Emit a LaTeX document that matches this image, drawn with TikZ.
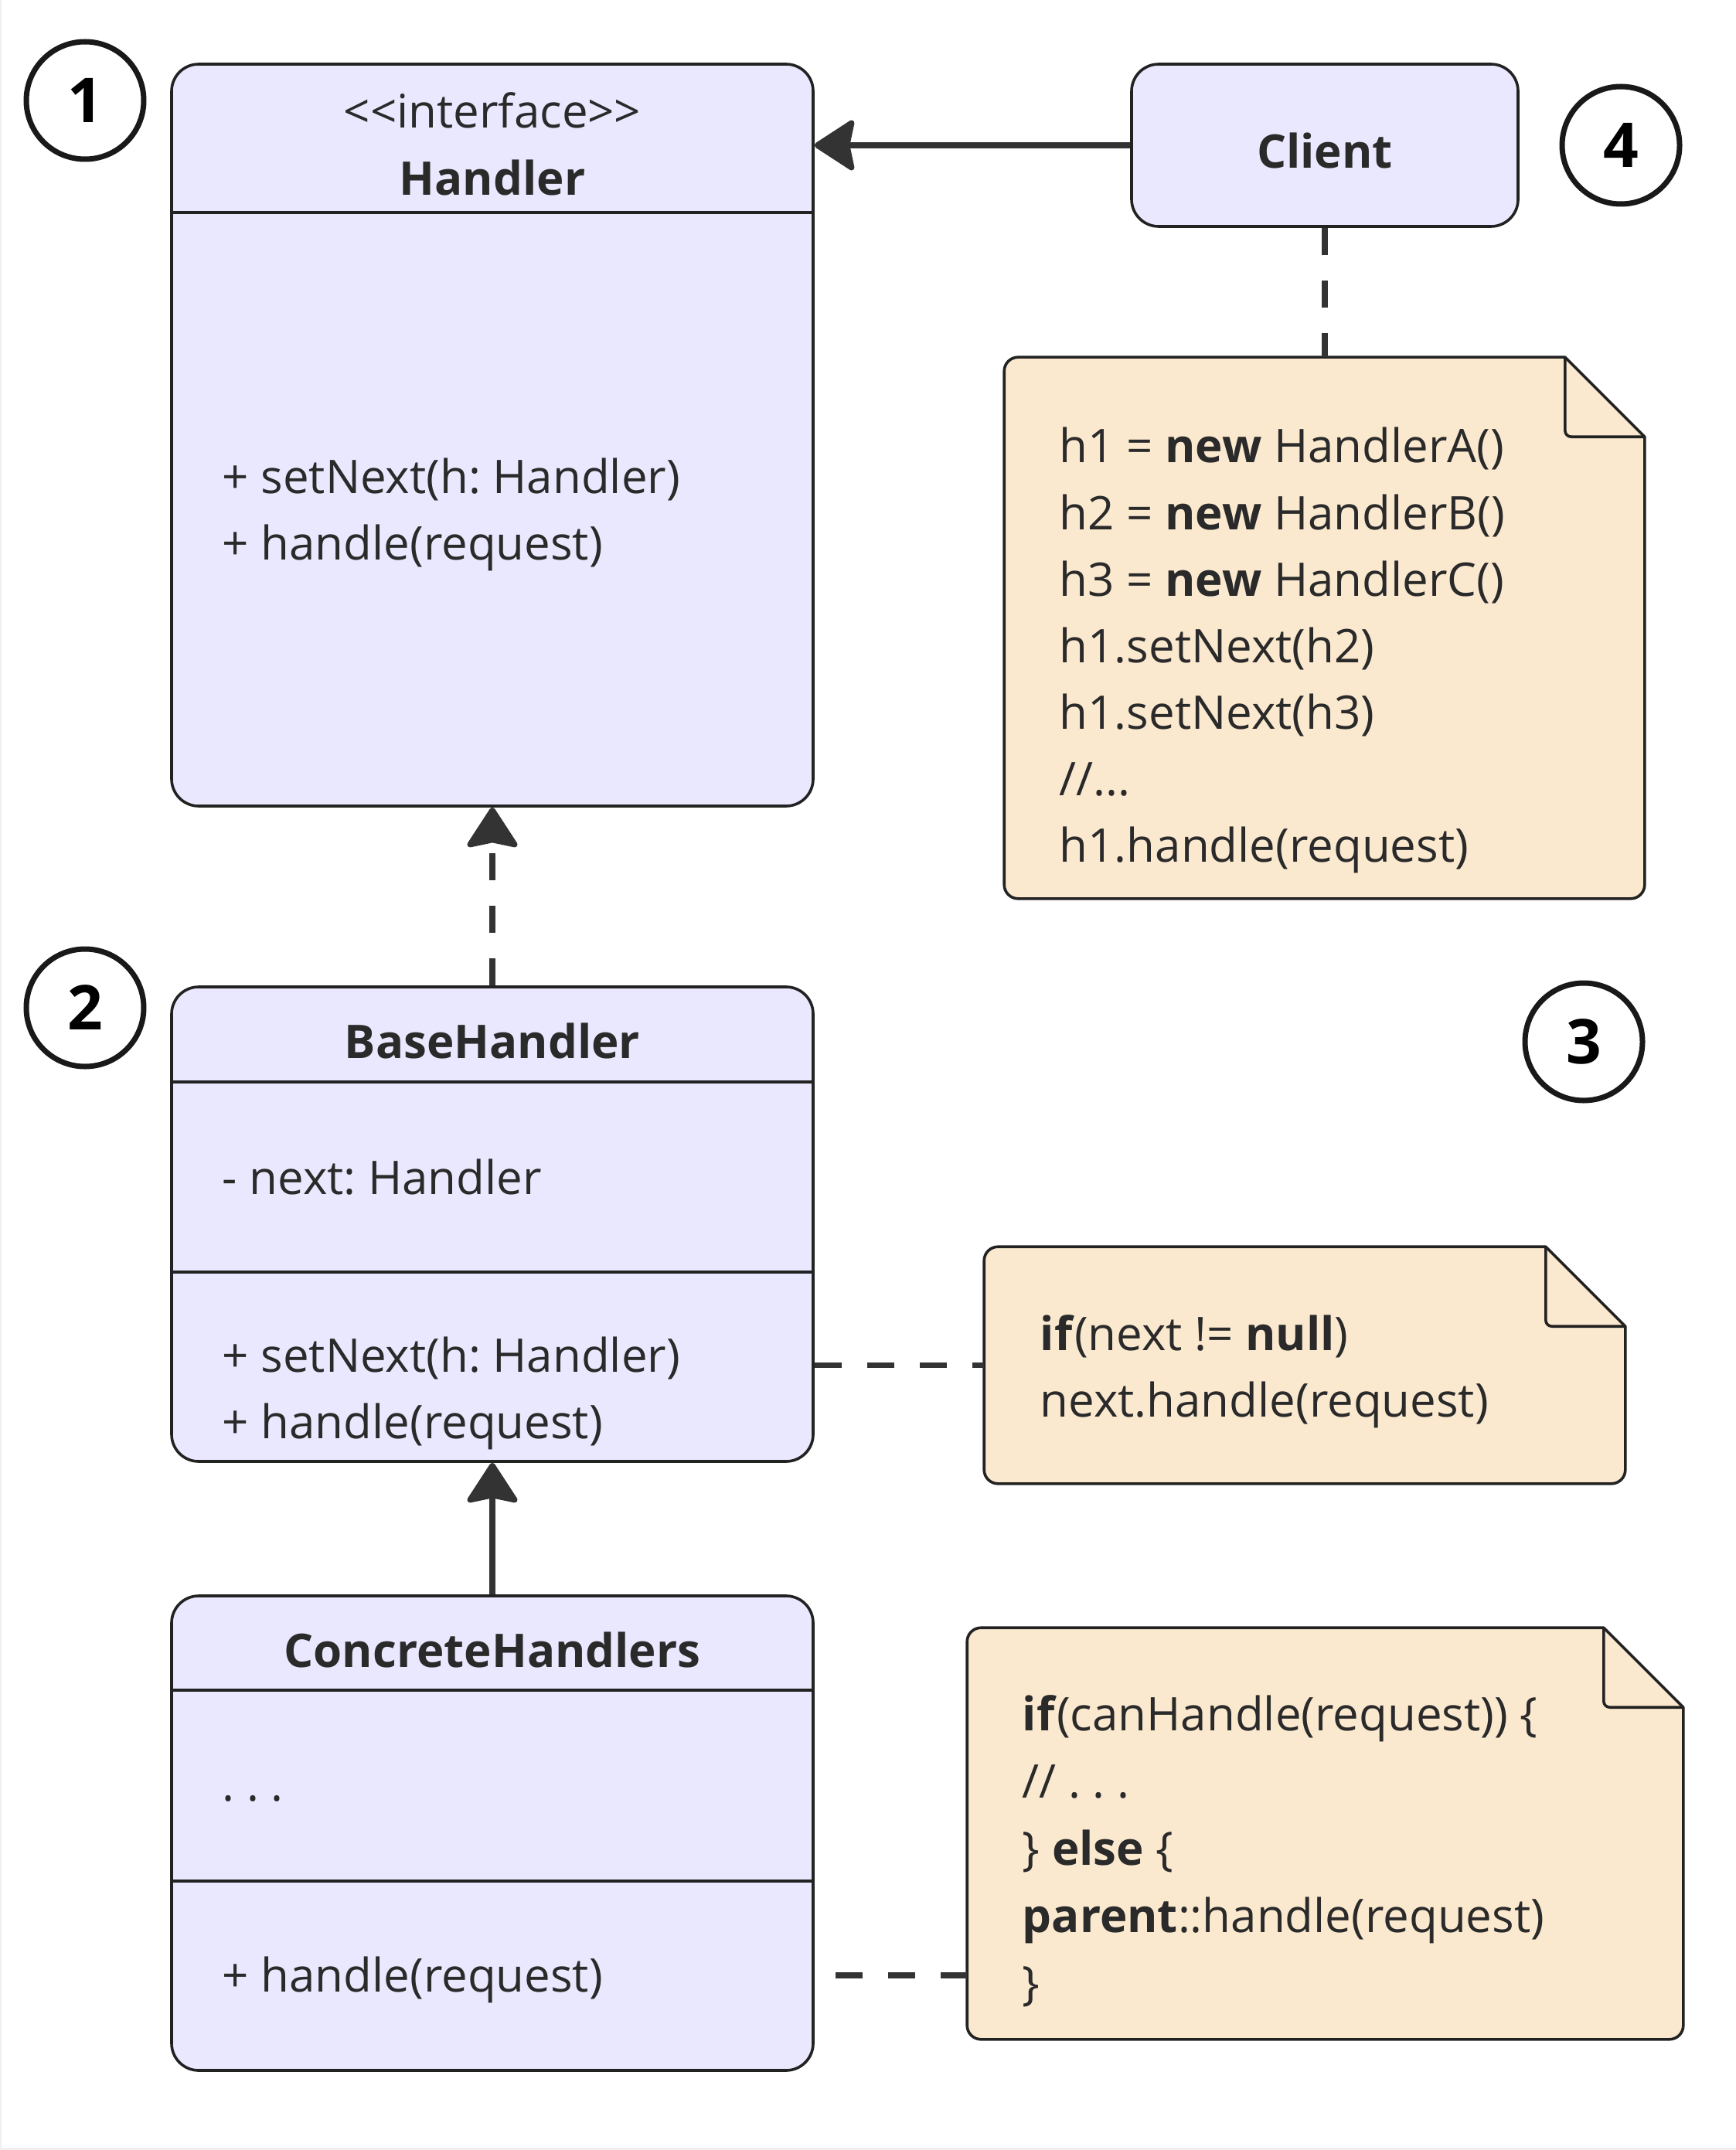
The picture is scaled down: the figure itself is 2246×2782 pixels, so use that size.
\documentclass[tikz,border=0pt]{standalone}
\usepackage{fontspec}
\setmainfont{Open Sans}
\usetikzlibrary{arrows.meta}

\definecolor{umlfill}{HTML}{EAE8FE}
\definecolor{notefill}{HTML}{FBE9CF}
\definecolor{edgeline}{HTML}{222222}
\definecolor{wire}{HTML}{333333}
\definecolor{ink}{HTML}{2A2A2A}
\definecolor{rim}{HTML}{EFEFEF}

\tikzset{
  classbox/.style={draw=edgeline, fill=umlfill, line width=0.9pt, rounded corners=8.75pt, inner sep=0pt},
  divider/.style={draw=edgeline, line width=0.9pt},
  notebody/.style={inner sep=0pt},
  txt/.style={text=ink, inner sep=0pt, font=\fontsize{15pt}{21.5pt}\selectfont},
  member/.style={txt, anchor=base west},
  clsname/.style={txt, anchor=base, font=\bfseries\fontsize{15pt}{21.5pt}\selectfont},
  badge/.style={circle, draw=black!90, line width=1.75pt, minimum size=38pt, inner sep=0pt,
    font=\bfseries\fontsize{20pt}{24pt}\selectfont},
  conn/.style={draw=wire, line width=1.875pt},
  tip/.style={-{Stealth[length=14pt, width=18pt, inset=1.8pt, round]}},
  dashpat/.style={dash pattern=on 8.75pt off 8.25pt}
}

\newcommand\elide{...}
\newcommand\foldnote[1]{%
  \draw[draw=edgeline, fill=notefill, line width=0.9pt, line join=round]
    ([xshift=-25.75pt]#1.north east) -- ([yshift=-25.75pt]#1.north east) [rounded corners=4.5pt]
    -- (#1.south east) -- (#1.south west) -- (#1.north west) [sharp corners] -- cycle;
  \draw[draw=edgeline, line width=0.9pt, rounded corners=2pt]
    ([xshift=-25.75pt]#1.north east) -- ([xshift=-25.75pt, yshift=-25.75pt]#1.north east)
    -- ([yshift=-25.75pt]#1.north east);
}

\begin{document}
\frenchspacing
\begin{tikzpicture}[x=0.25pt, y=-0.25pt]
  \useasboundingbox (0,0) rectangle (2246,2782);
  \fill[rim] (0,0) rectangle (1.5,2782);
  \fill[rim] (0,2779) rectangle (2246,2782);

  % classes
  \node[classbox, minimum width=207.5pt, minimum height=240pt] (handler) at (637,563) {};
  \draw[divider] (handler.west |- 0,275) -- (handler.east |- 0,275);
  \node[txt, anchor=base] (hstereo) at (637,166) {<\kern0pt<interface>\kern0pt>};
  \node[clsname] (hname) at (637,253) {Handler};
  \node[member] (hop1) at (287,638) {+ setNext(h: Handler)};
  \node[member] (hop2) at (287,724) {+ handle(request)};

  \node[classbox, minimum width=207.5pt, minimum height=153.5pt] (base) at (637,1584) {};
  \draw[divider] (base.west |- 0,1400) -- (base.east |- 0,1400);
  \draw[divider] (base.west |- 0,1646) -- (base.east |- 0,1646);
  \node[clsname] (bname) at (637,1369) {BaseHandler};
  \node[member] (bfield) at (287,1545) {- next: Handler};
  \node[member] (bop1) at (287,1775) {+ setNext(h: Handler)};
  \node[member] (bop2) at (287,1861) {+ handle(request)};

  \node[classbox, minimum width=207.5pt, minimum height=153.5pt] (concrete) at (637,2372) {};
  \draw[divider] (concrete.west |- 0,2187) -- (concrete.east |- 0,2187);
  \draw[divider] (concrete.west |- 0,2434) -- (concrete.east |- 0,2434);
  \node[clsname] (cname) at (637,2157) {ConcreteHandlers};
  \node[member] (cfield) at (287,2330) {. . .};
  \node[member] (cop1) at (287,2577) {+ handle(request)};

  \node[classbox, minimum width=125pt, minimum height=52.5pt] (client) at (1714,188) {};
  \node[clsname] (clname) at (1714,218) {Client};

  % notes
  \node[notebody, minimum width=206.75pt, minimum height=174.75pt] (noteA) at (1713.5,812.5) {};
  \foldnote{noteA}
  \foreach \ln [count=\i] in {{h1 = \textbf{new} HandlerA()}, {h2 = \textbf{new} HandlerB()},
      {h3 = \textbf{new} HandlerC()}, {h1.setNext(h2)}, {h1.setNext(h3)}, {//\elide}, {h1.handle(request)}}
    \node[member] (codeA\i) at (1370,513+86*\i) {\ln};

  \node[notebody, minimum width=207pt, minimum height=76.25pt] (noteB) at (1688,1766.5) {};
  \foldnote{noteB}
  \foreach \ln [count=\i] in {{\textbf{if}(next != \textbf{null})}, {next.handle(request)}}
    \node[member] (codeB\i) at (1345,1661+86*\i) {\ln};

  \node[notebody, minimum width=231.25pt, minimum height=132.75pt] (noteC) at (1714.5,2372.5) {};
  \foldnote{noteC}
  \foreach \ln [count=\i] in {{\textbf{if}(canHandle(request)) \{}, {// . . .}, {\} \textbf{else} \{},
      {\textbf{parent}::handle(request)}, {\}}}
    \node[member] (codeC\i) at (1322,2152+87*\i) {\ln};

  % badges
  \node[badge] (mark1) at (110,130) {1};
  \node[badge] (mark2) at (110,1304) {2};
  \node[badge] (mark3) at (2049,1348) {3};
  \node[badge] (mark4) at (2097,188) {4};

  % connectors
  \draw[conn, tip] (client.west) -- (client.west -| handler.east);
  \draw[conn, dashpat] (client.south) -- (client.south |- noteA.north);
  \draw[conn, dashpat, tip] (base.north) -- (handler.south);
  \draw[conn, tip] (concrete.north) -- (base.south);
  \draw[conn, dashpat] (noteB.west -| base.east) -- (noteB.west);
  \coordinate (hookC) at (1081,2556);
  \draw[conn, dashpat] (hookC) -- (hookC -| noteC.west);
\end{tikzpicture}
\end{document}
